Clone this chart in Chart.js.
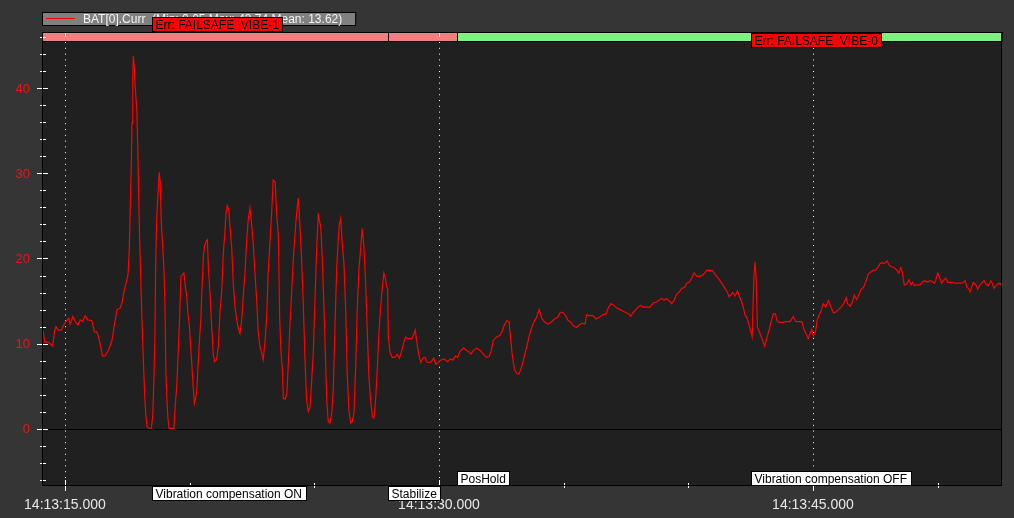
<!DOCTYPE html>
<html>
<head>
<meta charset="utf-8">
<script src="https://cdn.jsdelivr.net/npm/chart.js@4/dist/chart.umd.min.js"></script>
<style>
html,body{margin:0;padding:0;background:#353535;overflow:hidden;}
canvas{display:block;}
</style>
</head>
<body>
<canvas id="c" width="1014" height="518"></canvas>
<script>
// ---- data (seconds after 14:13:00, battery current in A) ----
const timeSec = [
14.12,14.19,14.32,14.41,14.51,14.59,14.64,14.72,14.85,14.95,
15.04,15.15,15.21,15.32,15.41,15.52,15.61,15.71,15.81,15.91,
16.08,16.18,16.28,16.35,16.42,16.51,16.62,16.75,16.89,16.99,
17.09,17.22,17.29,17.35,17.45,17.53,17.58,17.62,17.66,17.69,
17.72,17.74,17.78,17.82,17.88,17.92,17.96,18.00,18.04,18.08,
18.12,18.16,18.20,18.24,18.29,18.38,18.46,18.52,18.57,18.61,
18.64,18.68,18.72,18.76,18.78,18.82,18.86,18.92,18.97,19.01,
19.05,19.09,19.13,19.18,19.29,19.37,19.42,19.48,19.52,19.56,
19.60,19.65,19.72,19.77,19.83,19.89,19.93,19.99,20.03,20.09,
20.13,20.19,20.24,20.29,20.35,20.40,20.45,20.48,20.55,20.60,
20.66,20.71,20.76,20.82,20.88,20.95,21.00,21.08,21.15,21.22,
21.29,21.35,21.41,21.46,21.51,21.57,21.62,21.69,21.75,21.82,
21.89,21.95,22.02,22.09,22.15,22.22,22.29,22.35,22.42,22.49,
22.55,22.62,22.69,22.75,22.82,22.89,22.95,23.02,23.09,23.15,
23.22,23.27,23.31,23.35,23.43,23.49,23.56,23.61,23.66,23.72,
23.76,23.84,23.90,23.96,24.02,24.09,24.16,24.23,24.29,24.36,
24.43,24.49,24.56,24.63,24.69,24.76,24.83,24.89,24.96,25.03,
25.10,25.16,25.20,25.26,25.32,25.39,25.46,25.50,25.56,25.63,
25.70,25.76,25.83,25.90,25.96,26.00,26.06,26.12,26.19,26.26,
26.32,26.39,26.46,26.52,26.59,26.66,26.72,26.79,26.86,26.92,
26.99,27.06,27.13,27.19,27.26,27.33,27.39,27.46,27.53,27.59,
27.66,27.73,27.79,27.85,27.90,27.94,27.97,28.04,28.13,28.24,
28.33,28.41,28.50,28.58,28.66,28.75,28.91,28.99,29.05,29.12,
29.19,29.27,29.35,29.44,29.53,29.64,29.71,29.79,29.87,29.97,
30.08,30.21,30.35,30.45,30.57,30.67,30.75,30.84,30.98,31.11,
31.18,31.28,31.38,31.51,31.65,31.78,31.89,32.01,32.09,32.18,
32.32,32.45,32.54,32.62,32.72,32.81,32.88,32.94,33.02,33.12,
33.21,33.32,33.42,33.52,33.61,33.72,33.81,33.92,34.02,34.12,
34.22,34.36,34.49,34.63,34.76,34.85,34.96,35.06,35.16,35.30,
35.39,35.52,35.62,35.72,35.86,35.92,36.02,36.17,36.30,36.43,
36.57,36.70,36.79,36.90,37.02,37.13,37.26,37.39,37.53,37.62,
37.69,37.77,37.89,37.99,38.09,38.20,38.33,38.46,38.60,38.73,
38.82,38.93,39.03,39.13,39.24,39.33,39.43,39.53,39.64,39.74,
39.84,39.94,40.04,40.14,40.23,40.34,40.47,40.60,40.74,40.87,
40.96,41.03,41.14,41.27,41.38,41.47,41.56,41.64,41.70,41.78,
41.87,41.97,42.05,42.14,42.21,42.27,42.34,42.41,42.47,42.56,
42.60,42.64,42.68,42.72,42.77,42.84,42.90,42.98,43.06,43.14,
43.24,43.32,43.41,43.49,43.57,43.68,43.79,43.88,43.97,44.08,
44.21,44.31,44.45,44.55,44.65,44.75,44.81,44.88,44.95,45.01,
45.11,45.17,45.24,45.32,45.41,45.51,45.62,45.72,45.82,45.91,
46.02,46.12,46.23,46.33,46.39,46.49,46.58,46.66,46.75,46.85,
46.93,47.03,47.12,47.22,47.33,47.42,47.52,47.60,47.69,47.78,
47.86,47.97,48.06,48.16,48.26,48.36,48.45,48.52,48.58,48.66,
48.76,48.85,48.93,49.00,49.06,49.16,49.29,49.40,49.49,49.60,
49.69,49.79,49.87,49.92,50.00,50.10,50.16,50.23,50.32,50.40,
50.50,50.59,50.70,50.83,50.97,51.03,51.10,51.17,51.23,51.30,
51.37,51.43,51.53,51.61,51.70,51.79,51.86,51.94,52.03,52.13,
52.19,52.26,52.37,52.46,52.57
];
const batCurr = [
11.6,10.2,10.2,10.0,9.7,11.6,12.0,11.6,11.6,12.2,
12.6,13.0,12.3,13.2,12.6,12.2,12.8,12.6,13.3,12.8,
12.7,11.4,11.4,10.8,9.85,8.56,8.6,9.27,10.4,12.4,
14.0,14.2,14.8,15.9,17.1,18.1,21.0,26.1,30.8,35.9,
40.9,43.74,42.5,40.0,37.6,33.1,26.9,21.8,17.7,13.6,
10.1,6.9,3.8,1.84,0.27,0.08,0.05,1.45,6.1,11.2,
19.6,24.7,26.9,29.0,30.1,29.0,24.5,21.4,18.7,14.7,
6.5,3.4,1.25,0.08,0.08,0.08,2.6,4.8,7.5,10.2,
13.2,17.9,18.1,18.3,16.7,15.5,13.6,12.2,10.2,7.5,
5.5,3.0,3.6,4.6,8.1,10.6,12.8,15.3,20.2,21.5,
22.0,22.2,18.5,15.9,12.2,8.7,7.9,8.1,9.65,13.8,
16.3,20.6,22.8,25.3,26.2,25.7,23.7,21.2,17.1,14.3,
12.8,11.8,11.2,12.8,15.5,18.3,22.2,24.5,25.9,23.9,
21.8,18.3,15.1,11.4,9.65,8.9,8.1,10.1,13.0,18.3,
21.8,24.3,26.5,29.2,29.0,25.3,22.6,13.2,9.3,6.9,
3.6,3.5,4.2,7.7,12.0,15.9,20.0,23.0,25.3,27.1,
23.5,20.0,14.5,7.9,3.4,2.03,2.6,5.4,8.9,15.5,
21.4,25.3,24.5,23.7,20.0,14.0,7.3,3.4,0.86,0.67,
1.84,4.6,12.0,19.0,22.2,23.9,24.7,21.8,19.4,14.0,
6.5,2.2,0.67,0.86,1.84,7.3,13.8,18.7,21.2,23.5,
21.4,17.1,11.2,6.1,3.4,1.45,1.25,3.4,7.3,11.2,
14.3,16.7,18.3,17.7,16.7,16.5,10.8,8.9,8.4,8.4,
8.75,8.3,9.1,10.05,10.8,10.6,10.6,11.1,11.6,10.05,
8.7,7.8,8.3,8.4,7.8,7.8,8.0,8.3,7.6,7.8,
8.1,8.2,7.9,8.2,8.1,8.6,8.4,9.1,9.5,9.2,
9.1,8.8,9.2,9.5,9.2,8.8,8.4,8.5,9.1,10.4,
10.8,11.0,11.5,12.2,12.7,12.6,10.4,8.7,7.1,6.5,
6.45,7.3,8.5,9.65,10.8,11.9,12.6,13.1,14.0,13.0,
12.6,12.3,12.5,12.9,13.1,13.6,13.7,13.4,12.8,12.5,
12.1,11.9,12.2,12.4,12.3,13.4,13.3,13.3,12.9,13.1,
13.4,13.5,14.2,14.7,14.5,14.2,14.0,13.8,13.6,13.5,
13.2,13.6,14.0,14.3,14.5,14.3,14.3,14.3,14.8,14.9,
15.1,15.3,15.1,15.3,15.0,14.7,15.1,15.8,16.1,16.5,
16.6,17.1,17.2,17.7,18.3,17.9,17.9,18.1,18.6,18.6,
18.6,18.3,17.9,17.4,16.9,16.5,16.1,15.5,15.7,16.0,
15.6,16.2,15.5,14.9,14.2,13.4,13.1,12.5,11.8,10.8,
15.1,18.3,19.6,17.7,11.9,11.5,11.0,10.4,9.7,10.6,
11.6,12.6,13.5,13.5,12.6,12.5,12.5,12.6,12.6,12.6,
13.2,12.6,12.6,12.6,11.6,11.0,10.6,11.2,11.7,10.9,
11.5,12.8,13.3,13.8,14.7,14.3,15.05,14.3,13.6,13.7,
14.0,14.3,14.7,15.4,14.7,14.4,14.9,15.7,15.2,15.8,
16.4,16.6,17.3,18.2,18.45,18.6,18.65,19.0,19.4,19.5,
19.4,19.7,19.2,19.0,18.95,18.6,18.3,18.9,18.45,16.9,
17.0,17.5,16.9,17.2,16.8,16.9,16.9,17.3,17.4,17.2,
17.4,17.3,17.1,17.4,18.3,17.6,17.1,17.4,17.7,17.2,
17.2,17.2,17.1,17.1,17.1,17.2,17.4,16.6,16.5,16.1,
16.7,17.2,16.9,16.4,16.9,17.2,17.4,17.0,16.8,17.4,
17.1,16.5,16.9,17.1,16.9
];
const seriesName = 'BAT[0].Curr';
const seriesStats = '(Min: 0.05 Max: 43.74 Mean: 13.62)';

const xRange = [14.08, 52.58];
const yRange = [-6.69, 46.57];
const xMajorTicks = [15, 30, 45];
const xTickLabels = ['14:13:15.000', '14:13:30.000', '14:13:45.000'];
const xMinorTicks = [20, 25, 35, 40, 50];
const yMajorTicks = [0, 10, 20, 30, 40];
const yTickLabels = ['0', '10', '20', '30', '40'];
const yMinorStep = 2;

const modeChangeTimes = [27.97, 30.74];          // mode band boundaries
const eventTimes  = [18.50, 27.97, 30.74, 42.50];
const eventLabels = ['Vibration compensation ON', 'Stabilize', 'PosHold', 'Vibration compensation OFF'];
const errTimes  = [18.50, 42.50];
const errLabels = ['Err: FAILSAFE_VIBE-1', 'Err: FAILSAFE_VIBE-0'];

// ---- styles ----
const modeColors = ['#f08080', '#f08080', '#80f080'];
const eventRows = [0, 0, 1, 1];
const errRows = [0, 1];
const FONT = '"Liberation Sans", Arial, sans-serif';

const overlay = {
  id: 'overlay',
  beforeDatasetsDraw(chart) {
    const {ctx, chartArea: a, scales: {x: xs, y: ys}} = chart;
    ctx.save();
    ctx.fillStyle = '#353535';
    ctx.fillRect(0, 0, chart.width, chart.height);
    ctx.fillStyle = '#202020';
    ctx.fillRect(a.left, a.top, a.right - a.left, a.bottom - a.top);
    ctx.strokeStyle = '#ffffff';
    ctx.lineWidth = 1;
    ctx.setLineDash([1, 4.8]);
    xMajorTicks.forEach(t => {
      const px = Math.round(xs.getPixelForValue(t)) + 0.5;
      ctx.beginPath(); ctx.moveTo(px, a.top + 10); ctx.lineTo(px, a.bottom); ctx.stroke();
    });
    ctx.setLineDash([]);
    const y0 = Math.round(ys.getPixelForValue(0)) + 0.5;
    ctx.strokeStyle = '#000';
    ctx.beginPath(); ctx.moveTo(a.left, y0); ctx.lineTo(a.right, y0); ctx.stroke();
    ctx.restore();
  },
  afterDraw(chart) {
    const {ctx, chartArea: a, scales: {x: xs, y: ys}} = chart;
    ctx.save();
    ctx.lineWidth = 1;
    const edges = [xRange[0], ...modeChangeTimes, xRange[1]];
    const bandH = 9;
    for (let i = 0; i < edges.length - 1; i++) {
      const x0 = Math.round(xs.getPixelForValue(edges[i]));
      const x1 = Math.round(xs.getPixelForValue(edges[i + 1]));
      ctx.fillStyle = modeColors[i];
      ctx.fillRect(x0, a.top, x1 - x0, bandH);
      ctx.strokeStyle = '#000';
      ctx.strokeRect(x0 + 0.5, a.top + 0.5, x1 - x0, bandH);
    }
    ctx.strokeStyle = '#ffffff';
    for (let v = Math.ceil(yRange[0] / yMinorStep) * yMinorStep; v <= yRange[1]; v += yMinorStep) {
      const py = Math.round(ys.getPixelForValue(v)) + 0.5;
      const major = yMajorTicks.includes(v);
      ctx.beginPath();
      ctx.moveTo(a.left - (major ? 5 : 2), py);
      ctx.lineTo(a.left + (major ? 6 : 4), py);
      ctx.stroke();
    }
    xMajorTicks.forEach(t => {
      const px = Math.round(xs.getPixelForValue(t)) + 0.5;
      ctx.beginPath(); ctx.moveTo(px, a.bottom - 6); ctx.lineTo(px, a.bottom + 5); ctx.stroke();
      ctx.beginPath(); ctx.moveTo(px, a.top + 1); ctx.lineTo(px, a.top + 5); ctx.stroke();
    });
    xMinorTicks.forEach(t => {
      const px = Math.round(xs.getPixelForValue(t)) + 0.5;
      ctx.beginPath(); ctx.moveTo(px, a.bottom - 3); ctx.lineTo(px, a.bottom + 2); ctx.stroke();
    });
    ctx.strokeStyle = '#000';
    ctx.strokeRect(a.left + 0.5, a.top + 0.5, a.right - a.left - 1, a.bottom - a.top - 1);
    ctx.font = '13px ' + FONT;
    ctx.fillStyle = '#f01414';
    ctx.textAlign = 'right';
    ctx.textBaseline = 'alphabetic';
    yMajorTicks.forEach((v, i) => {
      const py = ys.getPixelForValue(v);
      ctx.fillText(yTickLabels[i], 30, py + 4.5);
    });
    ctx.font = '14px ' + FONT;
    ctx.fillStyle = '#e8e8e8';
    ctx.textAlign = 'center';
    xMajorTicks.forEach((t, i) => {
      ctx.fillText(xTickLabels[i], xs.getPixelForValue(t), a.bottom + 23);
    });
    ctx.font = '12px ' + FONT;
    ctx.textAlign = 'left';
    const legText = seriesName + '  ' + seriesStats;
    const tw = ctx.measureText(legText).width;
    ctx.fillStyle = '#808080';
    ctx.fillRect(a.left, 12, 41 + tw + 13, 13);
    ctx.strokeStyle = '#000';
    ctx.strokeRect(a.left + 0.5, 12.5, 41 + tw + 13, 13);
    ctx.strokeStyle = '#ff0000';
    ctx.beginPath(); ctx.moveTo(a.left + 4, 18.5); ctx.lineTo(a.left + 33, 18.5); ctx.stroke();
    ctx.fillStyle = '#f4f4f4';
    ctx.fillText(legText, a.left + 41, 22.5);
    const box = (text, x, top, fill) => {
      const w = Math.round(ctx.measureText(text).width) + 7;
      ctx.fillStyle = fill;
      ctx.fillRect(x, top, w, 15);
      ctx.strokeStyle = '#000';
      ctx.strokeRect(x + 0.5, top + 0.5, w, 14);
      ctx.fillStyle = '#000';
      ctx.fillText(text, x + 3.5, top + 12);
    };
    eventTimes.forEach((t, i) => {
      const x = Math.round(xs.getPixelForValue(t));
      const top = eventRows[i] === 0 ? a.bottom : a.bottom - 15;
      box(eventLabels[i], x, top, '#ffffff');
    });
    errTimes.forEach((t, i) => {
      const x = Math.round(xs.getPixelForValue(t));
      const top = errRows[i] === 0 ? a.top - 15 : a.top + 1;
      box(errLabels[i], x, top, '#ff0000');
    });
    ctx.restore();
  }
};

new Chart(document.getElementById('c'), {
  type: 'line',
  data: {
    datasets: [{
      label: seriesName,
      data: timeSec.map((t, i) => ({x: t, y: batCurr[i]})),
      borderColor: '#ff0000',
      borderWidth: 1.2,
      pointRadius: 0,
      tension: 0,
      fill: false
    }]
  },
  options: {
    responsive: false,
    animation: false,
    devicePixelRatio: 1,
    layout: {padding: {left: 42, right: 12, top: 32, bottom: 32}},
    plugins: {legend: {display: false}, tooltip: {enabled: false}},
    scales: {
      x: {type: 'linear', min: xRange[0], max: xRange[1], display: false},
      y: {type: 'linear', min: yRange[0], max: yRange[1], display: false}
    }
  },
  plugins: [overlay]
});
</script>
</body>
</html>
